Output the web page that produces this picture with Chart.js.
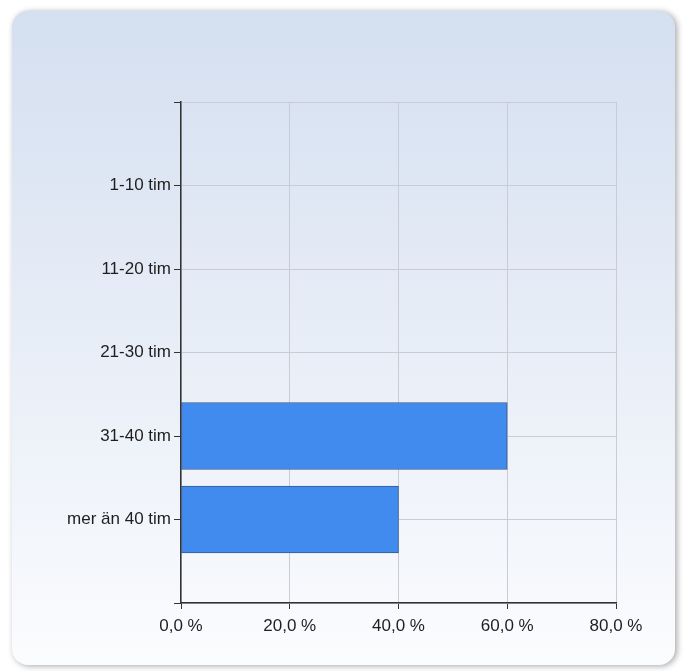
<!DOCTYPE html>
<html>
<head>
<meta charset="utf-8">
<script src="https://cdn.jsdelivr.net/npm/chart.js@4"></script>
<style>
  html, body { margin: 0; padding: 0; background: #fff; }
  #wrap { width: 688px; height: 671px; position: relative; }
</style>
</head>
<body>
<div id="wrap"><canvas id="chart" width="688" height="671"></canvas></div>
<script>
// data
const categories = ['1-10 tim', '11-20 tim', '21-30 tim', '31-40 tim', 'mer än 40 tim'];
const percentValues = [0, 0, 0, 60, 40];
const xTicks = [0, 20, 40, 60, 80];

// blank slot above and below so labels sit on the grid lines
const yLabels = [''].concat(categories, ['']);
const barData = [null].concat(percentValues.map(v => v > 0 ? v : null), [null]);

// panel with gradient + soft shadow behind the chart
const panelBg = {
  id: 'panelBg',
  beforeDraw(chart) {
    const ctx = chart.ctx;
    const x = 12, y = 11, w = 663, h = 654, r = 16;
    ctx.save();
    ctx.shadowColor = 'rgba(0,0,0,0.35)';
    ctx.shadowBlur = 6;
    ctx.shadowOffsetX = 2;
    ctx.shadowOffsetY = 1;
    const g = ctx.createLinearGradient(0, y, 0, y + h);
    g.addColorStop(0, '#d4dff0');
    g.addColorStop(1, '#fbfcfe');
    ctx.fillStyle = g;
    ctx.beginPath();
    ctx.roundRect(x, y, w, h, r);
    ctx.fill();
    ctx.restore();
  }
};

const fmt = v => v.toFixed(1).replace('.', ',') + ' %';
const labelFont = { family: 'Liberation Sans, Arial', size: 17 };

new Chart(document.getElementById('chart'), {
  type: 'bar',
  data: {
    labels: yLabels,
    datasets: [{
      data: barData,
      backgroundColor: '#418aee',
      borderColor: '#34598f',
      borderWidth: 1,
      borderSkipped: false,
      barThickness: 67
    }]
  },
  options: {
    indexAxis: 'y',
    responsive: false,
    animation: false,
    layout: { padding: { top: 102, right: 72, bottom: 0, left: 0 } },
    plugins: { legend: { display: false }, tooltip: { enabled: false } },
    scales: {
      x: {
        type: 'linear',
        min: xTicks[0],
        max: xTicks[xTicks.length - 1],
        afterBuildTicks: s => { s.ticks = xTicks.map(v => ({ value: v })); },
        afterFit: s => { s.height = 68; },
        grid: { color: '#c9ccd4', lineWidth: 1, tickColor: '#333', tickLength: 6 },
        border: { color: '#333', width: 1.5 },
        ticks: {
          padding: 7,
          color: '#1e1e1e',
          font: labelFont,
          callback: v => fmt(v)
        }
      },
      y: {
        type: 'category',
        offset: false,
        afterFit: s => { s.width = 181; },
        grid: { offset: false, color: '#c9ccd4', lineWidth: 1, tickColor: '#333', tickLength: 7 },
        border: { color: '#333', width: 1.5 },
        ticks: {
          padding: 3,
          color: '#1e1e1e',
          font: labelFont,
          autoSkip: false
        }
      }
    }
  },
  plugins: [panelBg]
});
</script>
</body>
</html>
